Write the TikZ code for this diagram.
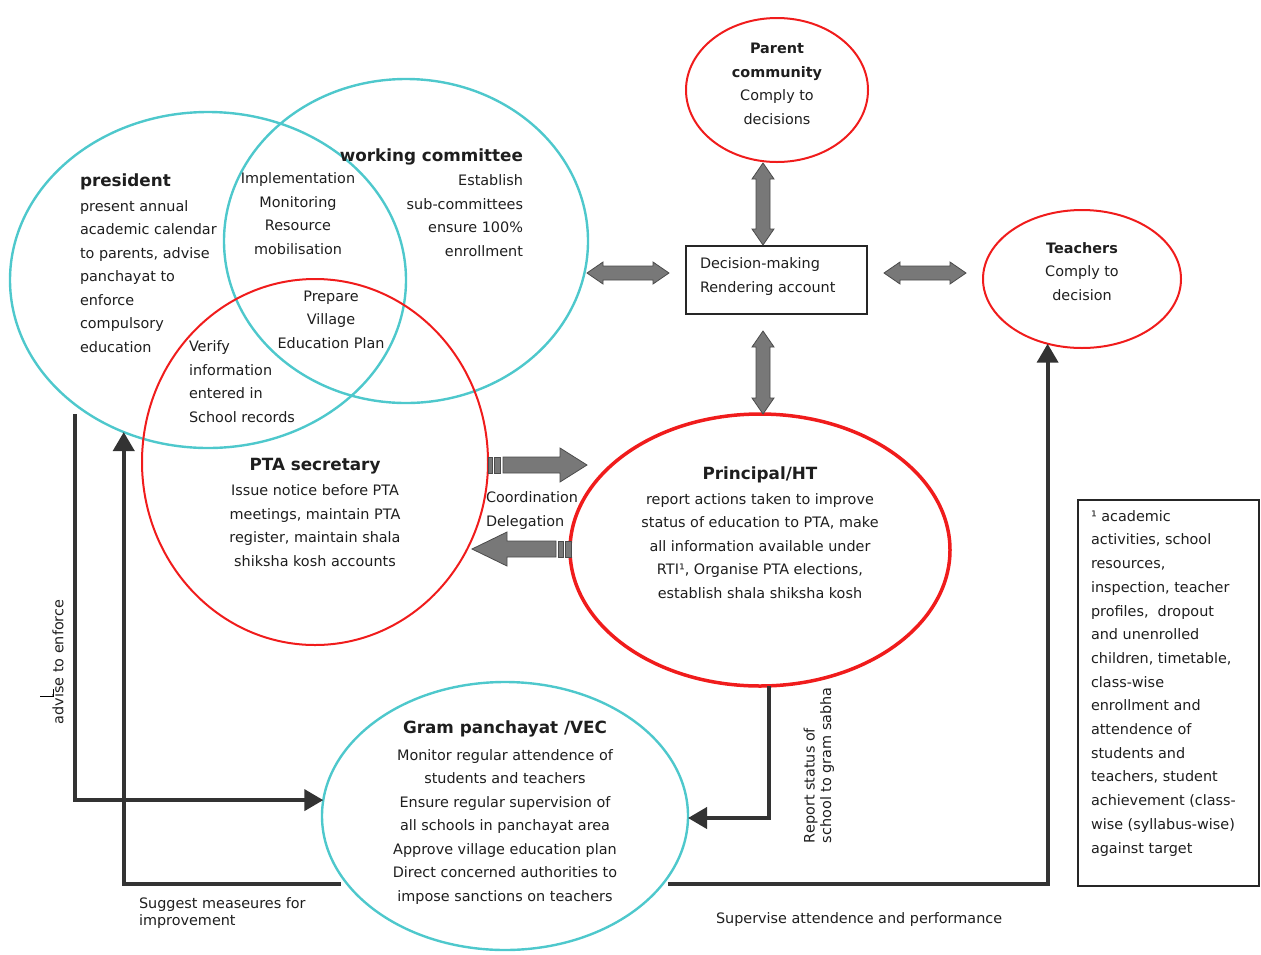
\documentclass[tikz,border=0pt]{standalone}
\usepackage{fontspec}
\setmainfont{DejaVu Sans}
\usetikzlibrary{arrows.meta,calc,shapes.geometric}

\definecolor{ringcyan}{RGB}{78,200,204}
\definecolor{ringred}{RGB}{240,28,28}
\definecolor{ink}{RGB}{30,30,30}
\definecolor{flowgray}{RGB}{51,51,51}
\definecolor{blockfill}{RGB}{120,120,120}
\definecolor{blockedge}{RGB}{75,75,75}

\newcommand\bodysize{\fontsize{14.4}{23.5}\selectfont}
\newcommand\titlesize{\fontsize{16.8}{20}\selectfont\bfseries}

% two-headed block arrow between two named points
\newcommand\twoway[2]{%
  \filldraw[blockarr] let \p1=(#1), \p2=(#2),
    \n1={atan2(\y2-\y1,\x2-\x1)}, \n2={veclen(\x2-\x1,\y2-\y1)} in
    [shift={(\p1)}, rotate=\n1]
    (0pt,0pt) -- (16pt,11pt) -- (16pt,7pt) -- (\n2-16pt,7pt) -- (\n2-16pt,11pt)
    -- (\n2,0pt) -- (\n2-16pt,-11pt) -- (\n2-16pt,-7pt) -- (16pt,-7pt)
    -- (16pt,-11pt) -- cycle;}

\tikzset{
  ring/.style={ellipse, inner sep=0pt, outer sep=0pt},
  cring/.style={ring, draw=ringcyan, line width=2.4pt},
  rring/.style={ring, draw=ringred, line width=2pt},
  txt/.style={inner sep=0pt, outer sep=0pt, text=ink, font=\bodysize},
  ttl/.style={inner sep=0pt, outer sep=0pt, text=ink, font=\titlesize},
  flow/.style={draw=flowgray, line width=4pt, -{Triangle[length=19pt,width=21pt]}},
  blockarr/.style={fill=blockfill, draw=blockedge, line width=0.8pt},
  framebox/.style={draw=black!85, line width=1.4pt, inner sep=0pt, outer sep=0pt}
}

\begin{document}
\begin{tikzpicture}[x=1pt,y=-1pt]
\useasboundingbox (0,0) rectangle (1261,954);

% rings
\node[cring, minimum width=396pt, minimum height=336pt] (pres) at (208,280) {};
\node[cring, minimum width=364pt, minimum height=324pt] (wc) at (406,241) {};
\node[rring, minimum width=346pt, minimum height=366pt] (pta) at (315,462) {};
\node[rring, line width=3.5pt, minimum width=380pt, minimum height=272pt] (prin) at (760,550) {};
\node[cring, minimum width=366pt, minimum height=268pt] (gp) at (505,816) {};
\node[rring, minimum width=182pt, minimum height=144pt] (parent) at (777,90) {};
\node[rring, minimum width=198pt, minimum height=138pt] (teach) at (1082,279) {};

% boxes
\node[framebox, minimum width=181pt, minimum height=68pt] (dec) at (776.5,280) {};
\node[framebox, minimum width=181pt, minimum height=386pt] (note) at (1168.5,693) {};

% texts of the rings (multi-line blocks are placed by the baseline of their last line)
\node[ttl, anchor=base west] (presT) at (80,186) {president};
\node[txt, anchor=base west, align=left] (presB) at (80,352)
  {present annual\\academic calendar\\to parents, advise\\panchayat to\\enforce\\compulsory\\education};
\node[ttl, anchor=base east] (wcT) at (523,161) {working committee};
\node[txt, anchor=base east, align=right] (wcB) at (523,256)
  {Establish\\sub-committees\\ensure 100\%\\enrollment};
\node[txt, anchor=base, align=center] (pwB) at (298,254)
  {Implementation\\Monitoring\\Resource\\mobilisation};
\node[txt, anchor=base, align=center] (wpB) at (331,348)
  {Prepare\\Village\\Education Plan};
\node[txt, anchor=base west, align=left] (ppB) at (189,422)
  {Verify\\information\\entered in\\School records};
\node[ttl, anchor=base] (ptaT) at (315,470) {PTA secretary};
\node[txt, anchor=base, align=center] (ptaB) at (315,566)
  {Issue notice before PTA\\meetings, maintain PTA\\register, maintain shala\\shiksha kosh accounts};
\node[ttl, anchor=base] (prinT) at (760,479) {Principal/HT};
\node[txt, anchor=base, align=center] (prinB) at (760,598)
  {report actions taken to improve\\status of education to PTA, make\\all information available under\\RTI¹, Organise PTA elections,\\establish shala shiksha kosh};
\node[ttl, anchor=base] (gpT) at (505,733) {Gram panchayat /VEC};
\node[txt, anchor=base, align=center] (gpB) at (505,901)
  {Monitor regular attendence of\\students and teachers\\Ensure regular supervision of\\all schools in panchayat area\\Approve village education plan\\Direct concerned authorities to\\impose sanctions on teachers};
\node[txt, anchor=base, align=center] (parentB) at (777,124)
  {\textbf{Parent}\\\textbf{community}\\Comply to\\decisions};
\node[txt, anchor=base, align=center] (teachB) at (1082,300)
  {\textbf{Teachers}\\Comply to\\decision};
\node[txt, anchor=base west, align=left] (decB) at (700,292)
  {Decision-making\\Rendering account};
\node[txt, anchor=base west, align=left, font=\fontsize{14.4}{23.7}\selectfont] (noteB) at (1091,853)
  {¹ academic\\activities, school\\resources,\\inspection, teacher\\profiles,~ dropout\\and unenrolled\\children, timetable,\\class-wise\\enrollment and\\attendence of\\students and\\teachers, student\\achievement (class-\\wise (syllabus-wise)\\against target};

% two-headed block arrows around the decision box
\coordinate (wcR) at (587,273);   \coordinate (decL) at (669,273);
\coordinate (decR) at (884,273);  \coordinate (teachL) at (966,273);
\coordinate (parentS) at (763,163); \coordinate (decT) at (763,245);
\coordinate (decS) at (763,331);  \coordinate (prinN) at (763,414);
\twoway{wcR}{decL}
\twoway{decR}{teachL}
\twoway{parentS}{decT}
\twoway{decS}{prinN}

% striped block arrows between PTA secretary and principal
\filldraw[blockarr] (488,457) rectangle (492,473) (494,457) rectangle (500,473);
\filldraw[blockarr] (503,457) -- (560,457) -- (560,448) -- (587,465) -- (560,482)
  -- (560,473) -- (503,473) -- cycle;
\filldraw[blockarr] (472,549) -- (507,532) -- (507,541) -- (556,541) -- (556,557)
  -- (507,557) -- (507,566) -- cycle;
\filldraw[blockarr] (558,541) rectangle (563,557) (565,541) rectangle (571,557);
\node[txt, anchor=base west, align=left] (coord) at (486,526) {Coordination\\Delegation};

% flow connectors, starting a little away from their source rings
\coordinate (advStart) at ($(pres.223)+(0,10)$);
\coordinate (suggStart) at ($(gp.203)+(-6,1)$);
\coordinate (supStart) at ($(gp.-23)+(5,1)$);
\draw[flow] (advStart) |- (gp.175);
\draw[flow] (suggStart) -| (pres.241);
\draw[flow] (prin.274) |- ($(gp.east)+(0,2)$);
\draw[flow] (supStart) -| (teach.242);

% connector labels
\node[txt, rotate=90] (adv) at (58,662) {advise to enforce};
\draw[black, line width=1pt] (40,696) -- (53,696) (53,689) -- (53,697);
\node[txt, anchor=base west, align=left, font=\fontsize{14.4}{17}\selectfont] (sugg) at (139,925)
  {Suggest measeures for\\improvement};
\node[txt, rotate=90, anchor=base west, align=left, font=\fontsize{14.4}{16.5}\selectfont] (rep) at (831,843)
  {Report status of\\school to gram sabha};
\node[txt, anchor=base west] (sup) at (716,923) {Supervise attendence and performance};
\end{tikzpicture}
\end{document}
